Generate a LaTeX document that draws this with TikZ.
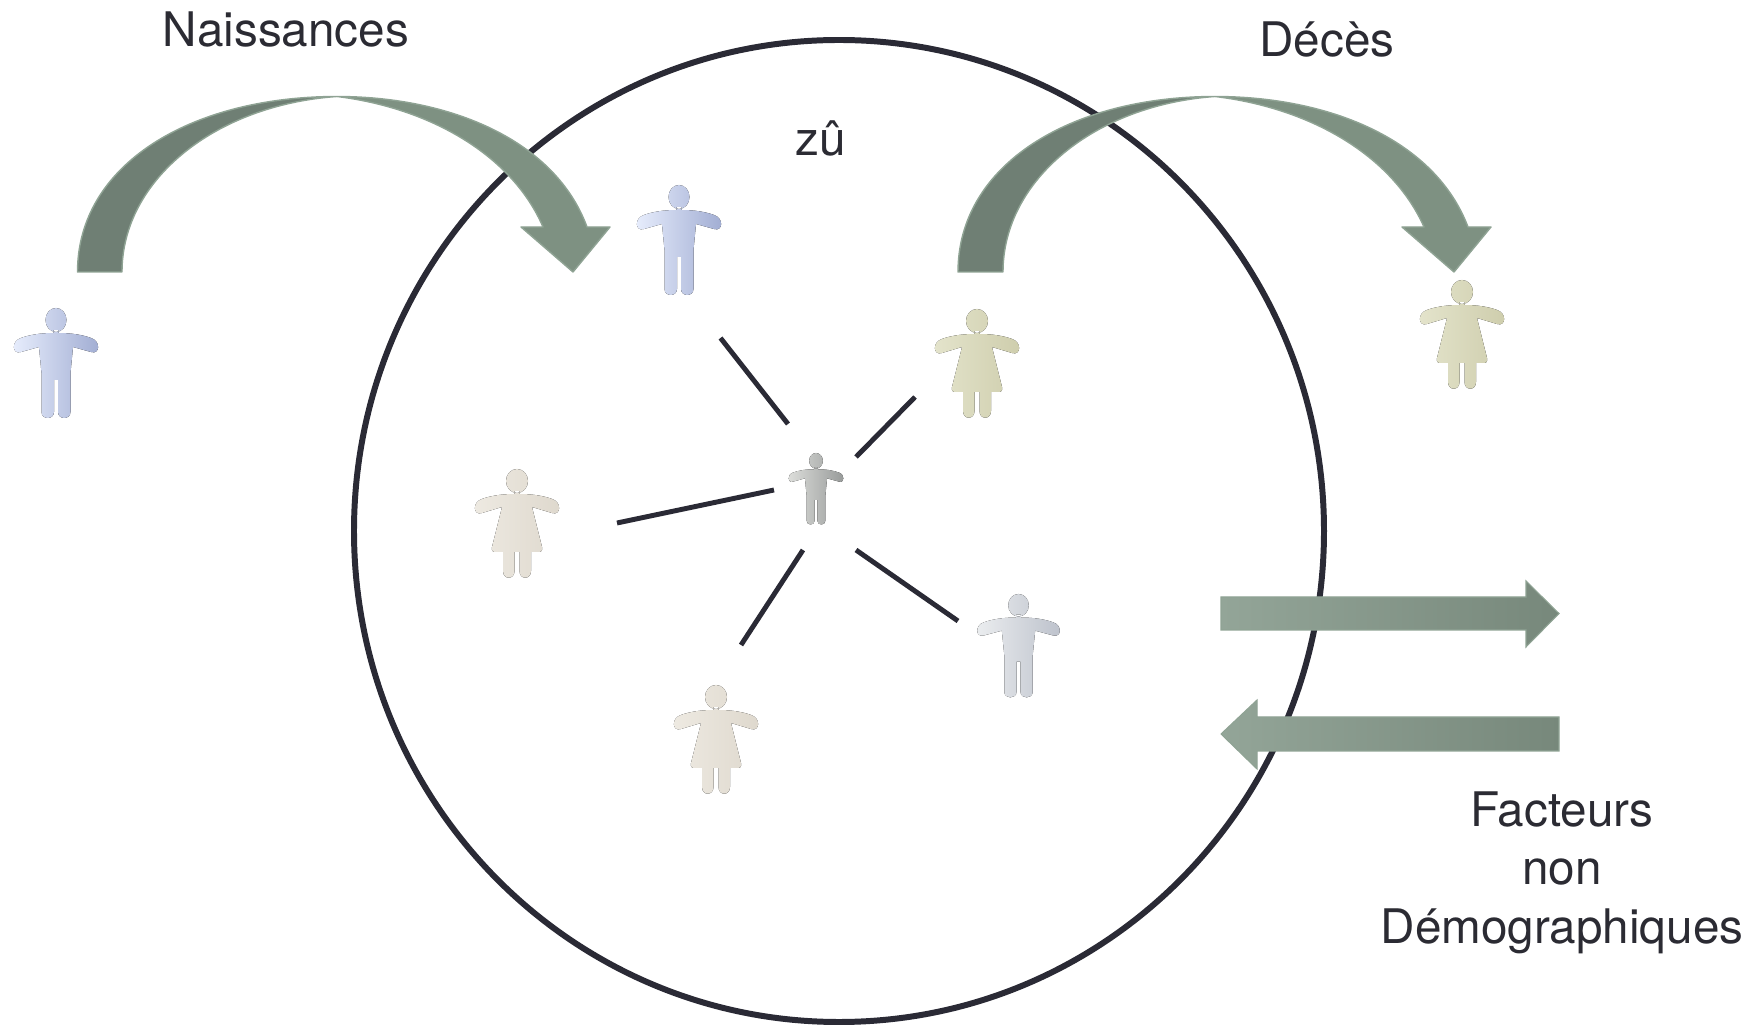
\documentclass[tikz,border=0pt]{standalone}
\usepackage{fontspec}
\setmainfont{TeX Gyre Heros}
\definecolor{ink}{HTML}{2A2A35}
\definecolor{textink}{HTML}{2B2B33}
\definecolor{ribbondark}{HTML}{6F7F74}
\definecolor{ribbonlight}{HTML}{7E9182}
\definecolor{ribbonedge}{HTML}{8FA394}
\tikzset{
man/.pic={
  \fill[pic actions] (0,12) ellipse [x radius=10.5, y radius=12]
    (-2.5,22) -- (-2.5,25) .. controls (-16,25) and (-27,27) .. (-35,30)
    .. controls (-45,33) and (-44,47) .. (-35,44) -- (-17,39) -- (-14.5,65) -- (-14.5,104)
    .. controls (-14.5,112) and (-2,112) .. (-2,104) -- (-2,72) -- (2,72) -- (2,104)
    .. controls (2,112) and (14.5,112) .. (14.5,104) -- (14.5,65) -- (17,39) -- (35,44)
    .. controls (44,47) and (45,33) .. (35,30) .. controls (27,27) and (16,25) .. (2.5,25)
    -- (2.5,22) -- cycle;
  },
woman/.pic={
  \fill[pic actions] (0,12) ellipse [x radius=11, y radius=12]
    (-2.5,22) -- (-2.5,25) .. controls (-16,25) and (-27,27) .. (-35,30)
    .. controls (-45,33) and (-44,47) .. (-35,44) -- (-15,38) -- (-25,78)
    .. controls (-26,82) and (-24,83) .. (-21,83) -- (-14,83) -- (-14,102)
    .. controls (-14,111) and (-2.5,111) .. (-2.5,102) -- (-2.5,83) -- (2.5,83) -- (2.5,102)
    .. controls (2.5,111) and (14,111) .. (14,102) -- (14,83) -- (21,83)
    .. controls (24,83) and (26,82) .. (25,78) -- (15,38) -- (35,44)
    .. controls (44,47) and (45,33) .. (35,30) .. controls (27,27) and (16,25) .. (2.5,25)
    -- (2.5,22) -- cycle;
  },
bluefig/.style={left color={rgb,255:red,232;green,238;blue,253}, middle color={rgb,255:red,190;green,203;blue,240}, right color={rgb,255:red,160;green,172;blue,210}},
greenfig/.style={left color={rgb,255:red,228;green,228;blue,204}, middle color={rgb,255:red,219;green,218;blue,186}, right color={rgb,255:red,206;green,205;blue,172}},
beigefig/.style={left color={rgb,255:red,238;green,234;blue,226}, middle color={rgb,255:red,230;green,225;blue,216}, right color={rgb,255:red,222;green,216;blue,205}},
greyfig/.style={left color={rgb,255:red,236;green,238;blue,240}, middle color={rgb,255:red,205;green,209;blue,217}, right color={rgb,255:red,188;green,193;blue,203}},
smallfig/.style={left color={rgb,255:red,222;green,223;blue,220}, middle color={rgb,255:red,172;green,176;blue,174}, right color={rgb,255:red,150;green,153;blue,152}},
ribbon/.style={draw=ribbonedge, line width=0.4pt, line join=round},
flatarrow/.style={draw=ribbonedge, line width=0.3pt, left color={rgb,255:red,147;green,165;blue,152}, middle color={rgb,255:red,132;green,153;blue,138}, right color={rgb,255:red,119;green,136;blue,123}},
labeltext/.style={text=textink, font=\fontsize{13.55}{16.5}\selectfont, inner sep=0pt},
link/.style={draw=ink, line width=1.4pt}
}
\begin{document}
\begin{tikzpicture}[x=0.01cm, y=-0.01cm]
\useasboundingbox (0,0) rectangle (1757,1025);
\draw[ink, line width=1.7pt] (839,531) ellipse [x radius=485, y radius=491];
% left ribbon
\draw[ribbon, fill=ribbondark] (77.5,272) .. controls (77.5,165) and (190,96.5) .. (337,96.5)
  .. controls (215,105) and (122,180) .. (122,272) -- cycle;
\draw[ribbon, fill=ribbonlight] (337,96.5) .. controls (450,96.5) and (555,140) .. (587,227)
  -- (610,227) -- (573,272) -- (521,227) -- (543,227) .. controls (512,155) and (430,108) .. (337,96.5) -- cycle;
% right ribbon
\draw[ribbon, fill=ribbondark] (958,272) .. controls (958,165) and (1070,96.5) .. (1215,96.5)
  .. controls (1095,105) and (1003,180) .. (1003,272) -- cycle;
\draw[ribbon, fill=ribbonlight] (1215,96.5) .. controls (1330,96.5) and (1435,140) .. (1468,227)
  -- (1491,227) -- (1454,272) -- (1402,227) -- (1424,227) .. controls (1392,155) and (1310,108) .. (1215,96.5) -- cycle;
% flows
\path[flatarrow] (1221,597) -- (1526,597) -- (1526,581) -- (1559,613.5) -- (1526,647) -- (1526,630) -- (1221,630) -- cycle;
\path[flatarrow] (1559,717) -- (1257,717) -- (1257,700) -- (1221,734) -- (1257,769) -- (1257,751) -- (1559,751) -- cycle;
% people
\pic[bluefig] at (56,308) {man};
\pic[bluefig] at (679,185) {man};
\pic[greenfig] at (977,309) {woman};
\pic[greenfig] at (1462,280) {woman};
\pic[beigefig] at (517,469) {woman};
\pic[beigefig] at (716,685) {woman};
\pic[greyfig, yscale=0.94, xscale=0.98] at (1018.5,594) {man};
\pic[smallfig, scale=0.65] at (816,453) {man};
% links
\coordinate (blue1) at (720.5,338);
\coordinate (blue2) at (788,424);
\coordinate (green1) at (915,397);
\coordinate (green2) at (856,457);
\coordinate (beige1) at (617,523);
\coordinate (beige2) at (774,490);
\coordinate (dress1) at (741,645);
\coordinate (dress2) at (803,550);
\coordinate (grey1) at (958,621);
\coordinate (grey2) at (856,550);
\draw[link] (blue1) -- (blue2);
\draw[link] (green1) -- (green2);
\draw[link] (beige1) -- (beige2);
\draw[link] (dress1) -- (dress2);
\draw[link] (grey1) -- (grey2);
% labels
\node[labeltext, anchor=base] (birth) at (286,47) {Naissances};
\node[labeltext, anchor=base] (death) at (1327,57) {Décès};
\node[labeltext, anchor=base] (zone) at (821,156) {zû};
\node[labeltext, anchor=base] (other1) at (1562,827) {Facteurs};
\node[labeltext, anchor=base] (other2) at (1562,885) {non};
\node[labeltext, anchor=base] (other3) at (1562,943) {Démographiques};
\end{tikzpicture}
\end{document}
